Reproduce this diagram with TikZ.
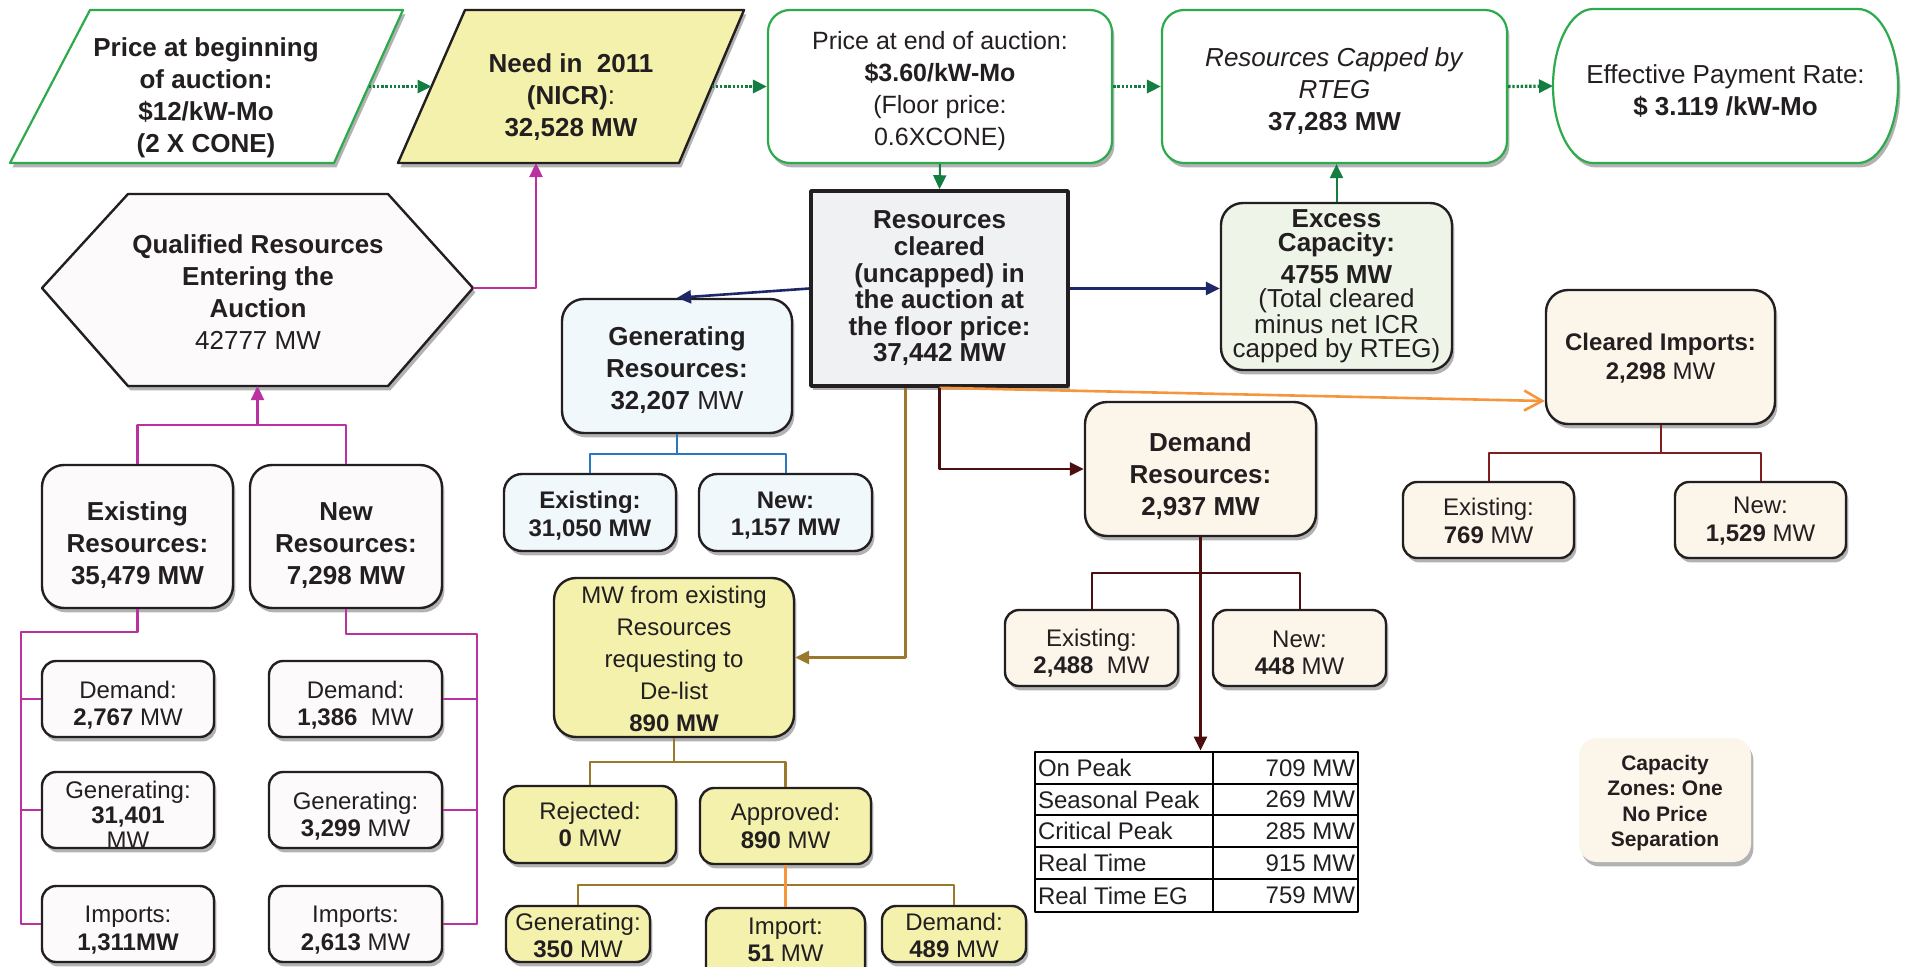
\documentclass[tikz,border=0pt]{standalone}
\usepackage{fontspec}
\setmainfont{Liberation Sans}
\usetikzlibrary{arrows.meta,shadows,calc}
\frenchspacing
\definecolor{txt}{RGB}{35,31,32}
\definecolor{gline}{RGB}{45,170,75}
\definecolor{garr}{RGB}{20,125,65}
\definecolor{yel}{RGB}{243,241,172}
\definecolor{lblue}{RGB}{240,248,252}
\definecolor{cream}{RGB}{251,245,234}
\definecolor{lgreen}{RGB}{238,245,232}
\definecolor{lgray}{RGB}{240,241,243}
\definecolor{pwhite}{RGB}{252,250,250}
\definecolor{navy}{RGB}{30,40,105}
\definecolor{pk}{RGB}{185,50,160}
\definecolor{bl}{RGB}{40,120,195}
\definecolor{dred}{RGB}{130,30,30}
\definecolor{dbrown}{RGB}{75,15,15}
\definecolor{gold}{RGB}{155,120,45}
\definecolor{orng}{RGB}{245,150,60}
\definecolor{bline}{RGB}{35,31,32}
\newcommand\ftA{\fontsize{13}{16}\selectfont}
\newcommand\ftB{\fontsize{12}{13.8}\selectfont}
% #1 box style, #2 name, #3-#6 x1 y1 x2 y2 (px), #7 text style, #8 text shift (px, down), #9 text
\newcommand\mybox[9]{%
  \pgfmathsetmacro\mbcx{(#3+#5)/2}%
  \pgfmathsetmacro\mbcy{(#4+#6)/2}%
  \pgfmathsetmacro\mbty{(#4+#6)/2+#8}%
  \pgfmathsetmacro\mbw{(#5-#3)*0.5}%
  \pgfmathsetmacro\mbh{(#6-#4)*0.5}%
  \node[#1, inner sep=0pt, minimum width=\mbw pt, minimum height=\mbh pt] (#2) at (\mbcx,\mbcy) {};
  \node[bx,#7] (#2-t) at (\mbcx,\mbty) {#9};}
\tikzset{
  shd/.style={drop shadow={shadow xshift=1.2pt,shadow yshift=-2.2pt,opacity=0.3,fill=black}},
  bx/.style={align=center, inner sep=1pt, text=txt, font=\ftA},
  gbox/.style={shd, draw=gline, line width=1.1pt, fill=white, rounded corners=11pt},
  rbox/.style={shd, draw=bline, line width=1.2pt, rounded corners=11pt},
  sbox/.style={shd, draw=bline, line width=1.2pt, rounded corners=7pt},
  tip/.style={-{Triangle[length=7pt,width=6.5pt]}},
  dots/.style={garr, line width=1.6pt, dash pattern=on 1.2pt off 0.9pt, tip},
  conn/.style={line width=1.2pt},
  tcell/.style={text=txt, font=\ftB, inner sep=0.8pt},
}
\begin{document}
\begin{tikzpicture}[x=0.5pt,y=-0.5pt,line join=round]
\fill[white] (0,0) rectangle (1906,966);
\useasboundingbox (0,0) rectangle (1906,966);

% ---------- top row ----------
\draw[gline,line width=1.1pt,fill=white,shd] (90,10) -- (403,10) -- (334,163) -- (10,163) -- cycle;
\node[bx,font=\ftA\bfseries] (p1) at (206,98) {Price at beginning\\of auction:\\\$12/kW-Mo\\(2 X CONE)};
\draw[bline,line width=1.2pt,fill=yel,shd] (465,10) -- (744,10) -- (679,163) -- (398,163) -- cycle;
\node[bx,font=\ftA\bfseries] (p2) at (571,97) {Need in\ \ 2011\\(NICR)\mdseries:\\32,528 MW};
\coordinate (p1r) at (368.5,86.5);
\coordinate (p2l) at (431.5,86.5);
\coordinate (p2r) at (711.5,86.5);
\coordinate (p2b) at (536,163);

\mybox{gbox}{pend}{768}{10}{1112}{163}{font=\fontsize{12.5}{16}\selectfont}{5}{Price at end of auction:\\\textbf{\$3.60/kW-Mo}\\(Floor price:\\0.6XCONE)}
\mybox{gbox}{capped}{1162}{10}{1507}{163}{}{5}{\textit{Resources Capped by}\\\textit{RTEG}\\\textbf{37,283 MW}}

\draw[gline,line width=1.1pt,fill=white,shd] (1593,9) -- (1858,9)
  .. controls (1880,9) and (1898,44) .. (1898,86)
  .. controls (1898,128) and (1880,163) .. (1858,163) -- (1593,163)
  .. controls (1571,163) and (1553,128) .. (1553,86)
  .. controls (1553,44) and (1571,9) .. (1593,9) -- cycle;
\node[bx] (eff) at (1725.5,91) {Effective Payment Rate:\\\textbf{\$ 3.119 /kW-Mo}};
\coordinate (effL) at (1553,86);

\draw[dots] (p1r) -- (p2l);
\draw[dots] (p2r) -- (pend.west);
\draw[dots] (pend.east) -- (capped.west);
\draw[dots] (capped.east) -- (effL);

% ---------- qualified resources ----------
\draw[bline,line width=1.2pt,fill=pwhite,shd] (42,288) -- (128,194) -- (388,194) -- (473,288) -- (388,386) -- (128,386) -- cycle;
\node[bx] (qual) at (258,292) {\textbf{Qualified Resources}\\\textbf{Entering the}\\\textbf{Auction}\\42777 MW};
\coordinate (hexR) at (473,288);
\coordinate (hexB) at (257.5,386);
\draw[pk,conn,tip] (hexR) -| (p2b);

\mybox{rbox,fill=pwhite}{exres}{42}{465}{233}{608}{font=\ftA\bfseries}{9}{Existing\\Resources:\\35,479 MW}
\mybox{rbox,fill=pwhite}{newres}{250}{465}{442}{608}{font=\ftA\bfseries}{9}{New\\Resources:\\7,298 MW}
\coordinate (qj) at (257.5,425);
\draw[pk,conn] (exres.north) |- (qj);
\draw[pk,conn] (newres.north) |- (qj);
\draw[pk,conn,tip] (qj) -- (hexB);

\mybox{sbox,fill=pwhite}{ld}{42}{661}{214}{737}{font=\ftB}{6}{Demand:\\\textbf{2,767} MW}
\mybox{sbox,fill=pwhite}{lg}{42}{772}{214}{848}{font=\fontsize{12}{12.5}\selectfont}{5}{Generating:\\\textbf{31,401}\\MW}
\mybox{sbox,fill=pwhite}{li}{42}{886}{214}{962}{font=\ftB}{6}{Imports:\\\textbf{1,311MW}}
\mybox{sbox,fill=pwhite}{rd}{269}{661}{442}{737}{font=\ftB}{6}{Demand:\\\textbf{1,386}\ \ MW}
\mybox{sbox,fill=pwhite}{rg}{269}{772}{442}{848}{font=\ftB}{6}{Generating:\\\textbf{3,299} MW}
\mybox{sbox,fill=pwhite}{ri}{269}{886}{442}{962}{font=\ftB}{6}{Imports:\\\textbf{2,613} MW}

\coordinate (lt) at (21,632);
\coordinate (lb) at (21,924);
\draw[pk,conn] (exres.south) |- (lt) -- (lb) -- (li.west);
\draw[pk,conn] (ld.west) -- (ld.west -| lt);
\draw[pk,conn] (lg.west) -- (lg.west -| lt);
\coordinate (rt) at (477,634);
\coordinate (rb) at (477,924);
\draw[pk,conn] (newres.south) |- (rt) -- (rb) -- (ri.east);
\draw[pk,conn] (rd.east) -- (rd.east -| rt);
\draw[pk,conn] (rg.east) -- (rg.east -| rt);

% ---------- cleared ----------
\mybox{shd,draw=bline,line width=1.8pt,fill=lgray}{clr}{811}{191}{1068}{386}{font=\fontsize{13}{13.3}\selectfont\bfseries}{0}{Resources\\cleared\\(uncapped) in\\the auction at\\the floor price:\\ 37,442 MW}
\draw[garr,line width=1pt,tip] (pend.south) -- (clr.north);

\mybox{rbox,fill=lblue}{genres}{562}{299}{792}{433}{}{4}{\textbf{Generating}\\\textbf{Resources:}\\\textbf{32,207} MW}
\mybox{sbox,fill=lblue,rounded corners=9pt}{gex}{504}{474}{676}{551}{font=\ftB\bfseries}{3}{Existing:\\31,050 MW}
\mybox{sbox,fill=lblue,rounded corners=9pt}{gnew}{699}{474}{872}{551}{font=\ftB\bfseries}{3}{New:\\1,157 MW}
\draw[navy,line width=1.3pt,tip] (clr.west) -- (genres.north);
\coordinate (gj) at (677,454);
\draw[bl,line width=1pt] (genres.south) -- (gj);
\draw[bl,line width=1pt] (gex.north) |- (gj) -| (gnew.north);

\mybox{rbox,fill=lgreen}{exc}{1221}{203}{1452}{370}{font=\fontsize{13}{12}\selectfont}{0}{\textbf{Excess}\\\textbf{Capacity:}\\[4pt]\textbf{4755 MW}\\(Total cleared\\minus net ICR\\capped by RTEG)}
\draw[navy,line width=1.3pt,tip] (clr.east) -- (clr.east -| exc.west);
\draw[garr,line width=1pt,tip] (exc.north) -- (exc.north |- capped.south);

% ---------- imports ----------
\mybox{rbox,fill=cream}{imp}{1546}{290}{1775}{424}{font=\fontsize{12}{14.5}\selectfont}{1}{\textbf{Cleared Imports:}\\\textbf{2,298} MW}
\mybox{sbox,fill=cream}{iex}{1403}{482}{1574}{558}{font=\ftB}{1}{Existing:\\\textbf{769} MW}
\mybox{sbox,fill=cream}{inew}{1675}{482}{1846}{558}{font=\ftB}{1}{New:\\\textbf{1,529} MW}
\coordinate (ij) at (1660.5,453);
\draw[dred,line width=1pt] (imp.south) -- (ij);
\draw[dred,line width=1pt] (iex.north) |- (ij) -| (inew.north);
\draw[orng,line width=1.3pt,-{Straight Barb[length=9pt,width=10pt,line width=1.3pt]}] (clr.south) -- ([yshift=-22pt]imp.west);

% ---------- demand ----------
\mybox{rbox,fill=cream}{dem}{1085}{402}{1316}{536}{font=\ftA\bfseries}{7}{Demand\\Resources:\\2,937 MW}
\draw[dbrown,line width=1.4pt,tip] (clr.south) |- (dem.west);
\mybox{sbox,fill=cream}{dex}{1005}{610}{1178}{686}{font=\ftB}{5}{Existing:\\\textbf{2,488}\ \ MW}
\mybox{sbox,fill=cream}{dnew}{1213}{610}{1386}{686}{font=\ftB}{5}{New:\\\textbf{448} MW}
\coordinate (dj) at (1200.5,573);
\draw[dbrown,line width=1pt] (dex.north) |- (dj) -| (dnew.north);

% table
\node[draw=black,line width=1.4pt,fill=white,inner sep=0pt,minimum width=161.5pt,minimum height=80pt] (tbl) at (1196.5,832) {};
\draw[dbrown,line width=1.3pt,tip] (dem.south) -- (dem.south |- tbl.north);
\draw[black,line width=1.1pt] (1213,752) -- (1213,912);
\foreach \yy in {784,815,847,879} \draw[black,line width=1.1pt] (1035,\yy) -- (1358,\yy);
\node[tcell,anchor=west] (t1a) at (1036,768) {On Peak};
\node[tcell,anchor=east] (t1b) at (1357,768) {709 MW};
\node[tcell,anchor=west] (t2a) at (1036,799.5) {Seasonal Peak};
\node[tcell,anchor=east] (t2b) at (1357,799.5) {269 MW};
\node[tcell,anchor=west] (t3a) at (1036,831) {Critical Peak};
\node[tcell,anchor=east] (t3b) at (1357,831) {285 MW};
\node[tcell,anchor=west] (t4a) at (1036,863) {Real Time};
\node[tcell,anchor=east] (t4b) at (1357,863) {915 MW};
\node[tcell,anchor=west] (t5a) at (1036,895.5) {Real Time EG};
\node[tcell,anchor=east] (t5b) at (1357,895.5) {759 MW};

\mybox{shd,fill=cream,rounded corners=9pt}{cz}{1579}{738}{1751}{862}{font=\fontsize{10.5}{12.8}\selectfont\bfseries}{3}{Capacity\\Zones: One\\No Price\\Separation}

% ---------- de-list ----------
\mybox{rbox,fill=yel}{mwx}{554}{578}{794}{737}{font=\fontsize{12}{16}\selectfont}{1}{MW from existing\\Resources\\requesting to\\De-list\\\textbf{890 MW}}
\draw[gold,line width=1.3pt,tip] ([xshift=-17pt]clr.south) |- (mwx.east);
\mybox{sbox,fill=yel}{rej}{504}{786}{676}{863}{font=\ftB}{0}{Rejected:\\\textbf{0} MW}
\mybox{sbox,fill=yel}{app}{700}{788}{871}{864}{font=\ftB}{0}{Approved:\\\textbf{890} MW}
\coordinate (mj) at (674,762);
\draw[gold,line width=1.2pt] (mwx.south) -- (mj);
\draw[gold,line width=1.2pt] (rej.north) |- (mj) -| (app.north);

\mybox{sbox,fill=yel}{bg}{506}{906}{650}{962}{font=\fontsize{12}{13.5}\selectfont}{1}{Generating:\\\textbf{350} MW}
\mybox{sbox,fill=yel}{bi}{706}{908}{865}{985}{font=\fontsize{12}{13.5}\selectfont}{-7}{Import:\\\textbf{51} MW}
\mybox{sbox,fill=yel}{bd}{882}{906}{1026}{962}{font=\fontsize{12}{13.5}\selectfont}{1}{Demand:\\\textbf{489} MW}
\coordinate (aj) at (785.5,885);
\draw[gold,line width=1.2pt] (bg.north) |- (aj) -| (bd.north);
\draw[orng,line width=1.2pt] (app.south) -- (bi.north);
\end{tikzpicture}
\end{document}
